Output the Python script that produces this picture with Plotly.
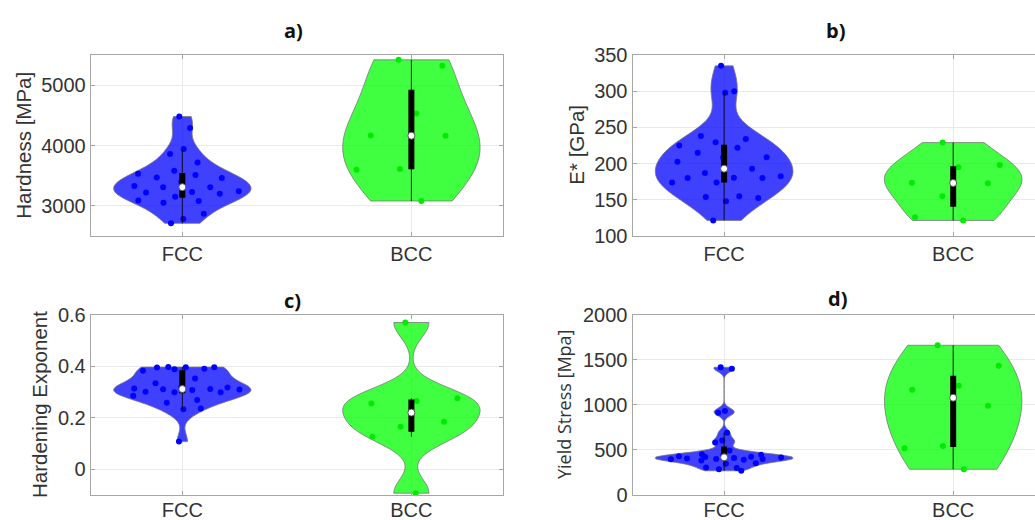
import numpy as np
import plotly.graph_objects as go

# ---------------- data ----------------
categories = ["FCC", "BCC"]
positions = [1, 2]

hardness_fcc = [4480, 4290, 3940, 3860, 3720, 3580, 3530, 3510, 3470, 3460, 3400, 3330,
                3310, 3310, 3240, 3230, 3220, 3200, 3150, 3090, 3080, 3050, 2870, 2780, 2710]
hardness_bcc = [5420, 5320, 4530, 4165, 4160, 3610, 3600, 3080]

modulus_fcc = [335, 300, 298, 238, 234, 229.5, 225, 222, 215, 208.6, 208.5, 202.5, 193,
               187, 182.6, 180.5, 180, 180, 174, 174, 155, 154, 152.5, 148, 121.5]
modulus_bcc = [229, 198, 195, 173.5, 173, 155, 126, 121.5]

exponent_fcc = [0.396, 0.395, 0.395, 0.394, 0.390, 0.388, 0.382, 0.352, 0.333, 0.317,
                0.316, 0.313, 0.311, 0.310, 0.309, 0.307, 0.300, 0.298, 0.298, 0.285,
                0.268, 0.258, 0.235, 0.233, 0.107]
exponent_bcc = [0.569, 0.275, 0.265, 0.255, 0.184, 0.165, 0.126, -0.093]

yield_fcc = [1415, 1400, 930, 910, 690, 604, 581, 492, 452, 445, 440, 430, 425, 420,
             415, 410, 405, 400, 400, 395, 390, 381, 352, 345, 305, 300, 285, 268]
yield_bcc = [1659, 1433, 1211, 1167, 989, 544, 519, 285]

panel_titles = ["a)", "b)", "c)", "d)"]
y_titles = ["Hardness [MPa]", "E* [GPa]", "Hardening Exponent", "Yield Stress [Mpa]"]
y_ranges = [[2500, 5500], [100, 350], [-0.1, 0.6], [0, 2000]]
y_ticks = [[3000, 4000, 5000], [100, 150, 200, 250, 300, 350],
           [0, 0.2, 0.4, 0.6], [0, 500, 1000, 1500, 2000]]
y_ticktext = [["3000", "4000", "5000"], ["100", "150", "200", "250", "300", "350"],
              ["0", "0.2", "0.4", "0.6"], ["0", "500", "1000", "1500", "2000"]]

# ---------------- styling ----------------
W, H = 1035, 520
FILLS = ["rgba(0,0,255,0.75)", "rgba(0,255,0,0.75)"]
POINTS = ["rgb(0,0,255)", "rgb(0,235,0)"]
TXT = "#333333"
AX = "#a6a6a6"
GRID = "#e9e9e9"
FONT = "Liberation Sans, Arial, sans-serif"
HALF_WIDTH = 0.3

# plot areas in pixels: (left, right, top, bottom)
areas = [(90.7, 503.0, 55.0, 236.0), (632.5, 1035.0, 55.0, 236.0),
         (90.7, 503.0, 314.5, 495.0), (632.5, 1035.0, 314.5, 495.0)]
label_standoff = [0, 0, -3, -3]
full_width_px = 412.3
xr0, xspan = 0.6, 1.8


def matlab_bw(v):
    v = np.asarray(v, float)
    sig = np.median(np.abs(v - np.median(v))) / 0.6745
    return sig * (4.0 / (3.0 * len(v))) ** 0.2


def kde(v, at, bw):
    v = np.asarray(v, float)
    at = np.atleast_1d(np.asarray(at, float))
    return np.exp(-0.5 * ((at[:, None] - v[None, :]) / bw) ** 2).sum(axis=1)


def jitter_x(v, pos, bw):
    # scatter each sample inside the violin, offset proportional to the density there
    v = np.asarray(v, float)
    grid = np.linspace(v.min(), v.max(), 200)
    dmax = kde(v, grid, bw).max()
    dens = kde(v, v, bw) / dmax
    u = 2.0 * ((np.arange(len(v)) * 0.6180339887 + 0.31) % 1.0) - 1.0
    return pos + 0.9 * HALF_WIDTH * dens * u


def box_stats(v):
    v = np.sort(np.asarray(v, float))
    q1, med, q3 = np.quantile(v, [0.25, 0.5, 0.75], method="hazen")
    iqr = q3 - q1
    lo = v[v >= q1 - 1.5 * iqr].min()
    hi = v[v <= q3 + 1.5 * iqr].max()
    return q1, med, q3, lo, hi


panels = [(hardness_fcc, hardness_bcc), (modulus_fcc, modulus_bcc),
          (exponent_fcc, exponent_bcc), (yield_fcc, yield_bcc)]

fig = go.Figure()
layout = dict(width=W, height=H, margin=dict(l=0, r=0, t=0, b=0, autoexpand=False),
              paper_bgcolor="white", plot_bgcolor="white", showlegend=False,
              violinmode="overlay", hovermode=False)
annotations = []

title_pos = [(293, 30), (835, 30), (292, 300), (837, 298)]
ytitle_pos = [(23.3, 145.5), (575.7, 145.0), (39.0, 405.0), (564.0, 404.0)]
ytitle_font = [dict(family=FONT, size=20.5, color=TXT), dict(family=FONT, size=20.5, color=TXT),
               dict(family=FONT, size=20.5, color=TXT),
               dict(family="Open Sans, sans-serif", size=18, color=TXT)]

for k, (data_pair, area) in enumerate(zip(panels, areas)):
    sfx = "" if k == 0 else str(k + 1)
    xa, ya = "x" + sfx, "y" + sfx
    left, right, top, bottom = area
    width_px = right - left
    xr1 = xr0 + xspan * width_px / full_width_px
    clipped = right >= W - 0.5

    for i, vals in enumerate(data_pair):
        pos = positions[i]
        bw = matlab_bw(vals)
        fig.add_trace(go.Violin(
            x0=pos, y=vals, xaxis=xa, yaxis=ya, width=2 * HALF_WIDTH, scalemode="width",
            spanmode="hard", bandwidth=bw, fillcolor=FILLS[i],
            line=dict(color="rgb(120,120,120)", width=0.8),
            points=False, box_visible=False, meanline_visible=False, hoverinfo="skip"))
    for i, vals in enumerate(data_pair):
        pos = positions[i]
        bw = matlab_bw(vals)
        fig.add_trace(go.Scatter(x=jitter_x(vals, pos, bw), y=vals, xaxis=xa, yaxis=ya,
                                 mode="markers", marker=dict(color=POINTS[i], size=6),
                                 hoverinfo="skip"))
        q1, med, q3, lo, hi = box_stats(vals)
        fig.add_trace(go.Scatter(x=[pos, pos], y=[lo, hi], xaxis=xa, yaxis=ya,
                                 mode="lines", line=dict(color="rgba(0,0,0,0.85)", width=1),
                                 hoverinfo="skip"))
        fig.add_trace(go.Scatter(x=[pos, pos], y=[q1, q3], xaxis=xa, yaxis=ya,
                                 mode="lines", line=dict(color="black", width=6),
                                 hoverinfo="skip"))
        fig.add_trace(go.Scatter(x=[pos], y=[med], xaxis=xa, yaxis=ya, mode="markers",
                                 marker=dict(color="white", size=7,
                                             line=dict(color="rgb(90,90,90)", width=1)),
                                 hoverinfo="skip"))

    layout["xaxis" + sfx] = dict(
        domain=[left / W, right / W], anchor=ya, type="linear", range=[xr0, xr1],
        tickvals=positions, ticktext=categories, showgrid=True, gridcolor=GRID,
        zeroline=False, showline=True, linecolor=AX, linewidth=1, mirror="ticks",
        ticks="inside", ticklen=4, tickcolor=AX, automargin=False,
        tickfont=dict(family=FONT, size=20, color=TXT), ticklabelstandoff=label_standoff[k])
    layout["yaxis" + sfx] = dict(
        domain=[1 - bottom / H, 1 - top / H], anchor=xa, range=y_ranges[k],
        tickvals=y_ticks[k], ticktext=y_ticktext[k], showgrid=True, gridcolor=GRID,
        zeroline=False, showline=True, linecolor=AX, linewidth=1,
        mirror=False if clipped else "ticks", automargin=False,
        ticks="inside", ticklen=4, tickcolor=AX,
        tickfont=dict(family=FONT, size=20, color=TXT))

    tx, ty = title_pos[k]
    annotations.append(dict(text="<b>%s</b>" % panel_titles[k], x=tx / W, y=1 - ty / H,
                            xref="paper", yref="paper", showarrow=False,
                            xanchor="center", yanchor="middle",
                            font=dict(family="Open Sans, sans-serif", size=20, color="#111111")))
    ax_, ay_ = ytitle_pos[k]
    annotations.append(dict(text=y_titles[k], x=ax_ / W, y=1 - ay_ / H,
                            xref="paper", yref="paper", showarrow=False, textangle=-90,
                            xanchor="center", yanchor="middle", font=ytitle_font[k]))

layout["annotations"] = annotations
fig.update_layout(**layout)
fig.write_html("out.html")
